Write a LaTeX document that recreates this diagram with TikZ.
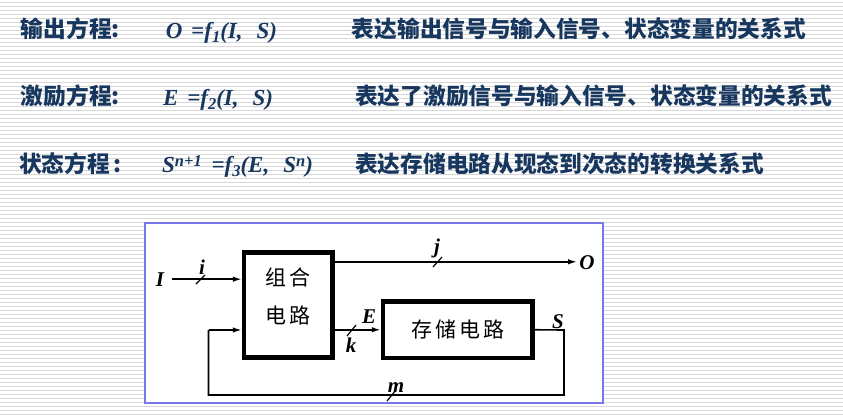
\documentclass[tikz,border=0pt]{standalone}
\usepackage{fontspec}
\setmainfont{Liberation Serif}
\newfontfamily\cjk{Noto Sans CJK SC}
\usetikzlibrary{arrows.meta}
\definecolor{tblue}{RGB}{23,55,94}
\definecolor{stripe}{RGB}{216,216,216}
\definecolor{frameb}{RGB}{120,120,235}
\newcommand{\subb}[1]{\raisebox{-0.35ex}{\fontsize{16.5}{17}\selectfont #1}}
\newcommand{\supp}[1]{\raisebox{0.6ex}{\fontsize{16.5}{17}\selectfont #1}}
\begin{document}
\begin{tikzpicture}[x=1pt,y=-1pt,
  hd/.style={anchor=base west,text=tblue,inner sep=0,font=\cjk\bfseries\fontsize{22.7}{24}\selectfont},
  eq/.style={anchor=base west,text=tblue,inner sep=0,font=\bfseries\itshape\fontsize{23}{24}\selectfont},
  blk/.style={draw,line width=4.5pt,fill=white,inner sep=0},
  sig/.style={line width=1.6pt},
  arr/.style={sig,-{Latex[length=9pt,width=5.5pt]}},
  sl/.style={line width=1.2pt},
  lab/.style={inner sep=0,font=\bfseries\itshape\fontsize{21}{23}\selectfont}]
\useasboundingbox (0,0) rectangle (843,416);
\fill[white] (0,0) rectangle (843,416);
\foreach \yy in {2,6,...,414} \draw[stripe,line width=1pt] (0,\yy) -- (843,\yy);
% headings
\node[hd] (h1) at (20.7,37.2) {输出方程:};
\node[hd] (h2) at (20.7,104.2) {激励方程:};
\node[hd] (h3) at (19,172.2) {状态方程\,:};
\node[eq] (e1) at (165.7,38.5) {O\hspace{3pt} =f\subb{1}(I,\hspace{14pt}S)};
\node[eq] (e2) at (163,105.5) {E\hspace{3pt} =f\subb{2}(I,\hspace{14pt}S)};
\node[eq] (e3) at (162,172.5) {S\supp{n+1}\hspace{4pt} =f\subb{3}(E,\hspace{14pt}S\supp{n})};
\node[hd] (r1) at (351.7,37.2) {表达输出信号与输入信号、状态变量的关系式};
\node[hd] (r2) at (355,104.2) {表达了激励信号与输入信号、状态变量的关系式};
\node[hd] (r3) at (355,172.2) {表达存储电路从现态到次态的转换关系式};
% diagram frame
\draw[frameb,line width=2pt,fill=white] (145,223) rectangle (603,403);
\node[blk,minimum width=88.5pt,minimum height=105pt] (comb) at (288.25,305) {};
\node[inner sep=0,font=\cjk\fontsize{21}{23}\selectfont] (t1) at (288,277) {组\hspace{4pt}合};
\node[inner sep=0,font=\cjk\fontsize{21}{23}\selectfont] (t2) at (288,315) {电\hspace{4pt}路};
\node[blk,minimum width=149.5pt,minimum height=56.5pt,font=\cjk\fontsize{21}{23}\selectfont] (mem) at (457.75,329.75) {存\hspace{3pt}储\hspace{3pt}电\hspace{3pt}路};
% labels
\node[lab] (I) at (160,280) {I};
\node[lab] (O) at (587,263) {O};
\node[lab] (li) at (202,267) {i};
\node[lab] (lj) at (437,248) {j};
\node[lab] (lE) at (369,317) {E};
\node[lab] (lk) at (351,345) {k};
\node[lab] (lm) at (396,388) {m};
\node[lab] (lS) at (558,322) {S};
\coordinate (Iend) at (172,279.2);
\coordinate (Oend) at (577,261.8);
\coordinate (fr) at (564,330);
\coordinate (fbr) at (564,395);
\coordinate (fbl) at (208.5,395);
\coordinate (fl) at (208.5,330);
% connectors
\draw[arr] (Iend) -- (Iend -| comb.west);
\draw[arr] (comb.east |- Oend) -- (Oend);
\draw[arr] (comb.east |- mem.west) -- (mem.west);
\draw[sig] (mem.east) -- (fr) -- (fbr) -- (fbl) -- (fl);
\draw[arr] (fl) -- (fl -| comb.west);
% slashes
\draw[sl] (196,284) -- (205,275);
\draw[sl] (433,267) -- (442,257);
\draw[sl] (347,336) -- (356,325);
\draw[sl] (387,401) -- (396,390);
\end{tikzpicture}
\end{document}
